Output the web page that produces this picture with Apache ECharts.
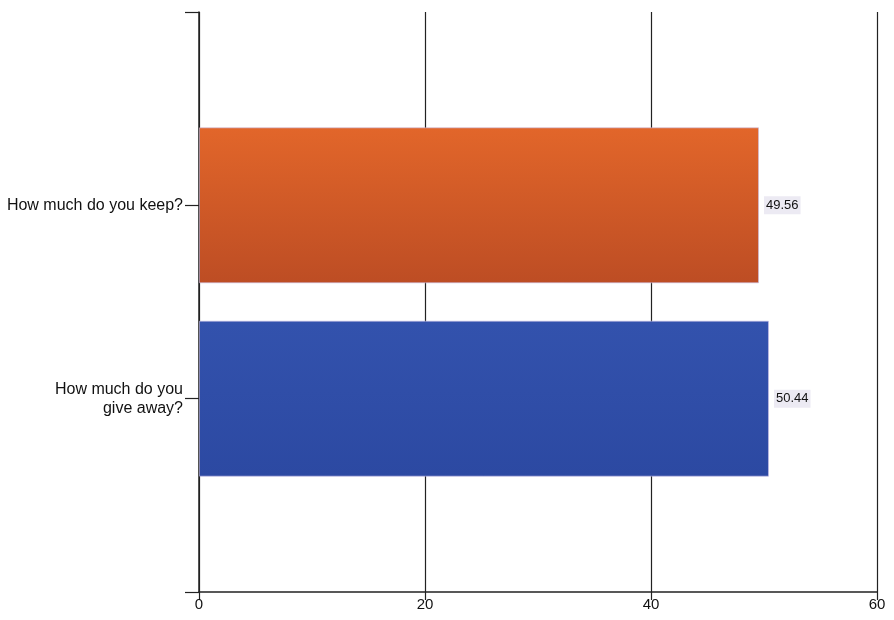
<!DOCTYPE html>
<html>
<head>
<meta charset="utf-8">
<style>
  html, body { margin: 0; padding: 0; background: #ffffff; }
  #chart { width: 894px; height: 620px; }
</style>
<script src="https://cdn.jsdelivr.net/npm/echarts@6/dist/echarts.min.js"></script>
</head>
<body>
<div id="chart"></div>
<script>
// Survey answers, top to bottom
const categories = ['How much do you keep?', 'How much do you\ngive away?'];
const values = [49.56, 50.44];
const xTicks = [0, 20, 40, 60];

// Empty slots above and below give the half-band padding at each end of the axis
const axisCategories = [''].concat(categories, ['']);
const axisValues = ['-'].concat(values, ['-']);

const fills = [
  null,
  new echarts.graphic.LinearGradient(0, 0, 0, 1, [
    { offset: 0, color: '#e2662a' },
    { offset: 1, color: '#bd4d24' }
  ]),
  new echarts.graphic.LinearGradient(0, 0, 0, 1, [
    { offset: 0, color: '#3352ad' },
    { offset: 1, color: '#2c49a2' }
  ]),
  null
];

const textFont = 'Liberation Sans, Arial, sans-serif';

const chart = echarts.init(document.getElementById('chart'), null, { renderer: 'canvas' });
chart.setOption({
  animation: false,
  backgroundColor: '#ffffff',
  grid: { left: 199, right: 17, top: 12, bottom: 28, containLabel: false },
  xAxis: {
    type: 'value',
    min: xTicks[0],
    max: xTicks[xTicks.length - 1],
    interval: xTicks[1] - xTicks[0],
    axisLine: { show: true, lineStyle: { color: '#222', width: 1.5 } },
    axisTick: { show: true, length: 8, lineStyle: { color: '#222', width: 1.2 } },
    axisLabel: {
      fontFamily: textFont,
      fontSize: 15,
      color: '#111',
      margin: 5
    },
    splitLine: { show: true, lineStyle: { color: '#222', width: 1.2 } }
  },
  yAxis: {
    type: 'category',
    inverse: true,
    boundaryGap: false,
    data: axisCategories,
    axisLine: { show: true, lineStyle: { color: '#222', width: 1.5 } },
    axisTick: { show: true, length: 14, lineStyle: { color: '#222', width: 1.2 } },
    axisLabel: {
      fontFamily: textFont,
      fontSize: 16,
      letterSpacing: -0.3,
      color: '#111',
      margin: 16,
      align: 'right',
      lineHeight: 19
    },
    splitLine: { show: false }
  },
  series: [{
    type: 'bar',
    barWidth: 156,
    data: axisValues.map((v, i) => ({
      value: v,
      itemStyle: fills[i] ? { color: fills[i], borderColor: 'rgba(200,190,230,0.6)', borderWidth: 1 } : undefined
    })),
    label: {
      show: true,
      position: 'right',
      distance: 5,
      formatter: p => Number(p.value).toFixed(2),
      fontFamily: textFont,
      fontSize: 13,
      color: '#111',
      backgroundColor: '#eceaf3',
      padding: [3, 2, 2, 2]
    }
  }]
});
</script>
</body>
</html>
